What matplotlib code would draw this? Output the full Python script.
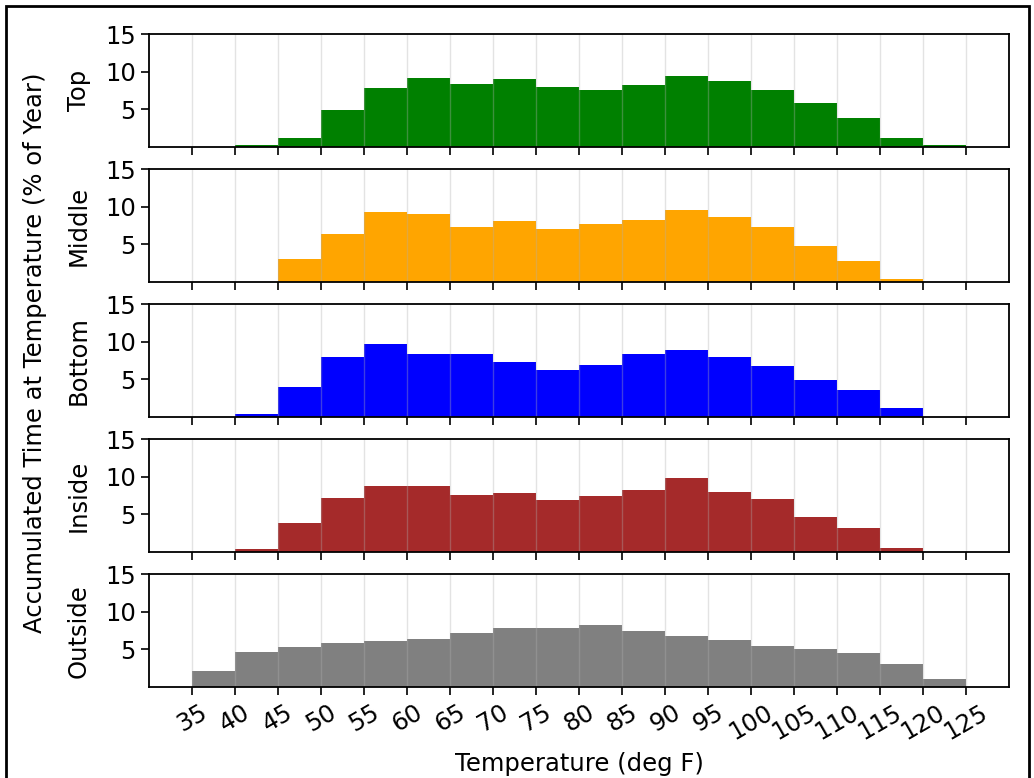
import matplotlib
matplotlib.use("Agg")
import matplotlib.pyplot as plt
from matplotlib.patches import Rectangle

# Temperature bins (deg F), 5-degree wide, left edges 35..120
bin_left = [35, 40, 45, 50, 55, 60, 65, 70, 75, 80, 85, 90, 95, 100, 105, 110, 115, 120]
bin_width = 5
tick_values = [35, 40, 45, 50, 55, 60, 65, 70, 75, 80, 85, 90, 95, 100, 105, 110, 115, 120, 125]

# Accumulated time per bin (% of year) for each sensor position
top_pct = [0, 0.3, 1.2, 4.9, 7.8, 9.2, 8.4, 9.0, 8.0, 7.6, 8.2, 9.4, 8.8, 7.6, 5.9, 3.9, 1.2, 0.2]
middle_pct = [0, 0, 3.0, 6.35, 9.3, 9.1, 7.3, 8.1, 7.1, 7.75, 8.3, 9.55, 8.7, 7.3, 4.8, 2.8, 0.4, 0]
bottom_pct = [0, 0.4, 4.0, 7.95, 9.75, 8.35, 8.35, 7.37, 6.2, 6.96, 8.35, 8.94, 7.95, 6.74, 4.98, 3.64, 1.21, 0]
inside_pct = [0, 0.4, 3.9, 7.25, 8.8, 8.8, 7.65, 7.9, 6.9, 7.5, 8.3, 9.85, 8.05, 7.1, 4.7, 3.16, 0.55, 0]
outside_pct = [2.14, 4.7, 5.3, 5.9, 6.1, 6.45, 7.25, 7.83, 7.83, 8.2, 7.5, 6.85, 6.3, 5.5, 5.07, 4.5, 3.1, 1.0]

positions = ["Top", "Middle", "Bottom", "Inside", "Outside"]
series = [top_pct, middle_pct, bottom_pct, inside_pct, outside_pct]
colors = ["green", "orange", "blue", "brown", "gray"]

FS = 17.5
plt.rcParams["font.family"] = ["DejaVu Sans"]
plt.rcParams["font.size"] = FS

fig, axes = plt.subplots(5, 1, figsize=(10.34, 7.78), dpi=100, sharex=True)
fig.subplots_adjust(left=0.144, right=0.976, top=0.9557, bottom=0.117, hspace=0.2)

for ax, name, vals, col in zip(axes, positions, series, colors):
    ax.bar(bin_left, vals, width=bin_width, align="edge", color=col, linewidth=0)
    ax.set_xlim(30, 130)
    ax.set_ylim(0, 15)
    ax.set_yticks([5, 10, 15])
    ax.set_xticks(tick_values)
    ax.grid(axis="x", color="#b0b0b0", alpha=0.35, linewidth=1.0)
    ax.set_ylabel(name, fontsize=FS, labelpad=10)
    ax.tick_params(axis="both", labelsize=FS, length=6, width=1.2, direction="out")
    for sp in ax.spines.values():
        sp.set_linewidth(1.3)

axes[-1].set_xticklabels([str(t) for t in tick_values], rotation=30)
axes[-1].set_xlabel("Temperature (deg F)", fontsize=FS, labelpad=6)

fig.text(0.034, 0.546, "Accumulated Time at Temperature (% of Year)",
         rotation=90, ha="center", va="center", fontsize=FS)

fig.text(48 / 1034, 1 + 4 / 778, "Histogram of Temperature by Position",
         ha="left", va="baseline", fontsize=15.8, fontweight="bold")

# frame around the whole figure
fig.patches.append(Rectangle((6 / 1034, -0.05), 1023 / 1034, 1 - 6 / 778 + 0.05,
                             transform=fig.transFigure, fill=False,
                             edgecolor="black", linewidth=2.0, clip_on=False))

fig.savefig("out.png", dpi=100)
